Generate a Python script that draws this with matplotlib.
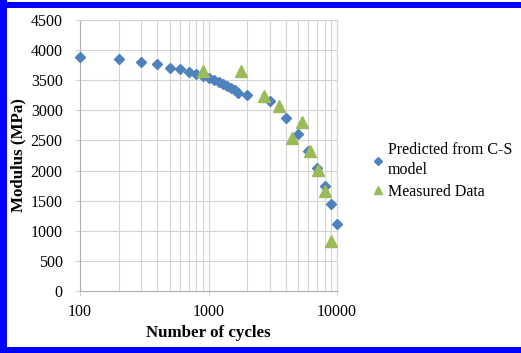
import numpy as np
import matplotlib
matplotlib.use("Agg")
from matplotlib import pyplot as plt
from matplotlib.patches import Rectangle
from matplotlib.ticker import FixedLocator, LogLocator, NullFormatter

plt.rcParams['font.family'] = ['Liberation Serif', 'DejaVu Serif']

# C-S model prediction
pred_cycles = [100, 200, 300, 400, 500, 600, 700, 800, 900, 1000, 1100, 1200,
               1300, 1400, 1500, 1600, 1700, 2000, 3000, 4000, 5000, 6000,
               7000, 8000, 9000, 10000]
pred_modulus = [3890, 3860, 3810, 3770, 3710, 3680, 3640, 3600, 3565, 3530,
                3500, 3470, 3440, 3410, 3370, 3330, 3290, 3250, 3160, 2870,
                2600, 2320, 2040, 1750, 1440, 1110]

# laboratory measurements
meas_cycles = [900, 1800, 2700, 3550, 4450, 5300, 6200, 7100, 8000, 9000]
meas_modulus = [3660, 3660, 3230, 3080, 2540, 2800, 2330, 2010, 1660, 830]

blue = '#4f81bd'
green = '#9bbb59'
grid_c = '#d4d4d4'
fs = 11.5

W, H = 521, 353
fig = plt.figure(figsize=(W / 100, H / 100), dpi=100)
ax = fig.add_axes([80 / W, 1 - 291 / H, 257 / W, 271 / H])

ax.plot(pred_cycles, pred_modulus, linestyle='none', marker='D',
        markersize=5.6, color=blue, label='Predicted from C-S\nmodel',
        zorder=3, clip_on=False)
ax.plot(meas_cycles, meas_modulus, linestyle='none', marker='^',
        markersize=8.5, color=green, label='Measured Data',
        zorder=3, clip_on=False)

ax.set_xscale('log')
ax.set_xlim(100, 10000)
ax.set_ylim(0, 4500)
ax.yaxis.set_major_locator(FixedLocator(np.arange(0, 4501, 500)))
ax.xaxis.set_major_locator(FixedLocator([100, 1000, 10000]))
ax.xaxis.set_major_formatter(matplotlib.ticker.FuncFormatter(lambda v, p: '%d' % v))
ax.xaxis.set_minor_locator(LogLocator(base=10, subs=np.arange(2, 10)))
ax.xaxis.set_minor_formatter(NullFormatter())

ax.grid(True, which='both', axis='x', color=grid_c, linewidth=0.8)
ax.grid(True, which='major', axis='y', color=grid_c, linewidth=0.8)
ax.set_axisbelow(True)
for s in ax.spines.values():
    s.set_color(grid_c)
    s.set_linewidth(0.8)
ax.spines['left'].set_color('#b0b0b0')
ax.spines['bottom'].set_color('#b0b0b0')
ax.tick_params(which='minor', length=0)
ax.tick_params(which='major', length=3.5, width=0.8, color=grid_c, labelsize=fs)
ax.tick_params(axis='y', pad=9)
ax.tick_params(axis='x', pad=6)

ax.set_xlabel('Number of cycles', fontsize=12.2, fontweight='bold', va='center')
ax.set_ylabel('Modulus (MPa)', fontsize=12.2, fontweight='bold', va='center')
ax.xaxis.set_label_coords(0.5, (291 - 333) / 271)
ax.yaxis.set_label_coords((18 - 80) / 257, 0.5)

leg = ax.legend(loc='center left', bbox_to_anchor=((374 - 80) / 257, (291 - 171) / 271),
                frameon=False, fontsize=fs, handlelength=0.5, handletextpad=0.35,
                borderpad=0, borderaxespad=0, labelspacing=0.35, markerscale=0.75)
for t in leg.get_texts():
    t.set_linespacing(1.35)

# blue frame on the left, top and bottom edges
for x0, y0, w, h in [(0, 0, 7, H), (0, 347, W, 6), (0, 2, W, 6)]:
    fig.patches.append(Rectangle((x0 / W, 1 - (y0 + h) / H), w / W, h / H,
                                 transform=fig.transFigure, facecolor='#0000ff',
                                 edgecolor='none'))

fig.savefig('out.png', dpi=100)
